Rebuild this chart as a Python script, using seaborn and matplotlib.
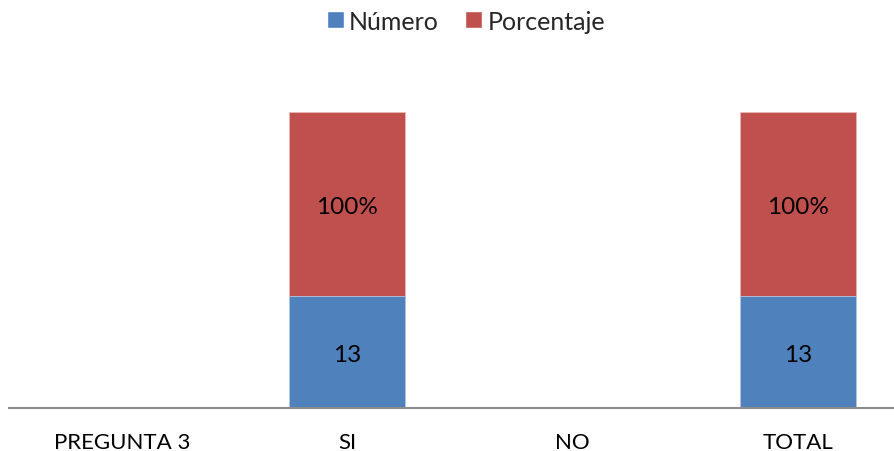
import numpy as np
import pandas as pd
import matplotlib
matplotlib.use("Agg")
import matplotlib.pyplot as plt
import seaborn as sns
from matplotlib.patches import Patch

categorias = ["PREGUNTA 3", "SI", "NO", "TOTAL"]
numero = [0, 13, 0, 13]
porcentaje = [0, 100, 0, 100]
etiquetas_numero = ["", "13", "", "13"]
etiquetas_porcentaje = ["", "100%", "", "100%"]

AZUL = "#4F81BD"
ROJO = "#C0504D"
FS_TICK = 16
FS_BAR = 17.5
FS_LEG = 18

sns.set_theme(style="white")
plt.rcParams["font.family"] = ["Lato", "DejaVu Sans"]

df = pd.DataFrame({"categoria": categorias, "Número": numero, "Porcentaje": porcentaje})
df["total"] = df["Número"] + df["Porcentaje"]

fig = plt.figure(figsize=(8.95, 4.52), dpi=100)
W, H = 895, 452
x0, x1 = 9, 911
y_base, y_top = 409, 113
ax = fig.add_axes([x0 / W, (H - y_base) / H, (x1 - x0) / W, (y_base - y_top) / H])

# compressed value axis so both stacked segments remain readable
p = 0.45
ax.set_yscale("function", functions=(lambda v: np.sign(v) * np.abs(v) ** p,
                                     lambda v: np.sign(v) * np.abs(v) ** (1 / p)))

ancho = 116 / 225.5
sns.barplot(data=df, x="categoria", y="total", color=ROJO, width=ancho,
            edgecolor="#E8B8B6", linewidth=0.6, saturation=1, ax=ax)
sns.barplot(data=df, x="categoria", y="Número", color=AZUL, width=ancho,
            edgecolor="#B8C9E0", linewidth=0.6, saturation=1, ax=ax)

ax.set_ylim(0, max(df["total"]))
ax.set_xlim(-0.5, len(categorias) - 0.5)

fwd = lambda v: np.abs(v) ** p
inv = lambda v: v ** (1 / p)
for i in range(len(categorias)):
    if numero[i]:
        ymid = inv(fwd(numero[i]) / 2)
        ax.text(i, ymid, etiquetas_numero[i], ha="center", va="center_baseline",
                fontsize=FS_BAR, color="black")
    if porcentaje[i]:
        ymid = inv((fwd(numero[i]) + fwd(numero[i] + porcentaje[i])) / 2)
        ax.text(i, ymid, etiquetas_porcentaje[i], ha="center", va="center_baseline",
                fontsize=FS_BAR, color="black")

for s in ["top", "right", "left"]:
    ax.spines[s].set_visible(False)
ax.spines["bottom"].set_color("#8C8C8C")
ax.spines["bottom"].set_linewidth(1.5)
ax.set_yticks([])
ax.set_xlabel("")
ax.set_ylabel("")
ax.tick_params(axis="x", length=0, pad=17, labelsize=FS_TICK, colors="black")
ax.patch.set_alpha(0)

handles = [Patch(facecolor=AZUL, label="Número"), Patch(facecolor=ROJO, label="Porcentaje")]
fig.legend(handles=handles, loc="center", bbox_to_anchor=(466 / W, 1 - 22 / H), ncol=2,
           frameon=False, fontsize=FS_LEG, handlelength=0.68, handleheight=0.68,
           handletextpad=0.22, columnspacing=1.05)

fig.savefig("out.png", dpi=100)
